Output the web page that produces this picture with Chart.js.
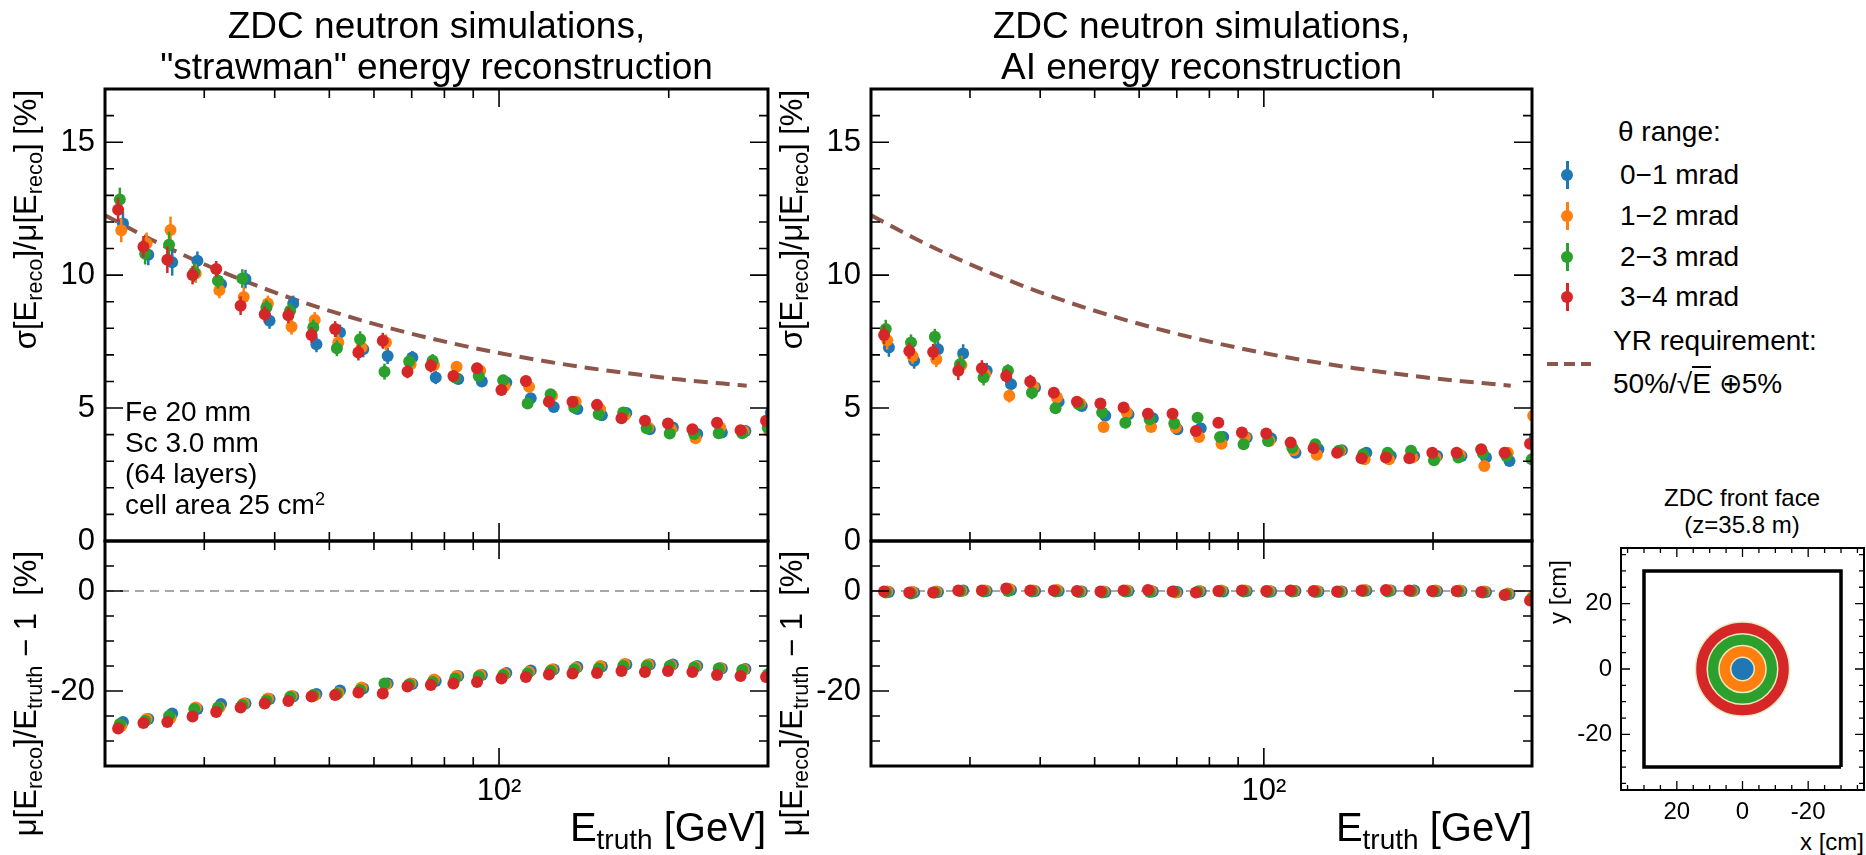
<!DOCTYPE html>
<html>
<head>
<meta charset="utf-8">
<script src="https://cdn.jsdelivr.net/npm/chart.js@4.4.1/dist/chart.umd.min.js"></script>
<style>
  body { margin: 0; background: #fff; }
  #fig { position: relative; width: 1866px; height: 855px; overflow: hidden;
         font-family: "Liberation Sans", Arial, sans-serif; color: #000; }
  canvas { position: absolute; }
  .t { position: absolute; white-space: nowrap; }
  .yl { position: absolute; white-space: nowrap; text-align: right; transform-origin: 0 0; transform: rotate(-90deg); }
  sub { font-size: 70%; vertical-align: baseline; position: relative; top: 0.28em; }
  sup { font-size: 65%; vertical-align: baseline; position: relative; top: -0.5em; }
  .mk { position: absolute; }
  .mk .bar { position: absolute; left: -1.5px; top: -14px; width: 3px; height: 28px; }
  .mk .dot { position: absolute; left: -6px; top: -6px; width: 12px; height: 12px; border-radius: 50%; }
</style>
</head>
<body>
<div id="fig">
  <canvas id="resStraw"></canvas>
  <canvas id="biasStraw"></canvas>
  <canvas id="resAI"></canvas>
  <canvas id="biasAI"></canvas>
  <canvas id="zdc"></canvas>

  <!-- titles -->
  <div class="t" style="left:105px;top:5px;width:663px;text-align:center;font-size:37px;line-height:41px;">ZDC neutron simulations,<br>"strawman" energy reconstruction</div>
  <div class="t" style="left:871px;top:5px;width:661px;text-align:center;font-size:37px;line-height:41px;">ZDC neutron simulations,<br>AI energy reconstruction</div>

  <!-- y labels (top aligned) -->
  <div class="yl" style="left:8px;top:590px;width:500px;height:36px;line-height:36px;font-size:31px;">σ[E<sub>reco</sub>]/μ[E<sub>reco</sub>] [%]</div>
  <div class="yl" style="left:8px;top:1051px;width:500px;height:36px;line-height:36px;font-size:31px;">μ[E<sub>reco</sub>]/E<sub>truth</sub> − 1 &nbsp;[%]</div>
  <div class="yl" style="left:774px;top:590px;width:500px;height:36px;line-height:36px;font-size:31px;">σ[E<sub>reco</sub>]/μ[E<sub>reco</sub>] [%]</div>
  <div class="yl" style="left:774px;top:1051px;width:500px;height:36px;line-height:36px;font-size:31px;">μ[E<sub>reco</sub>]/E<sub>truth</sub> − 1 &nbsp;[%]</div>

  <!-- x labels (right aligned) -->
  <div class="t" style="right:1100px;top:805px;font-size:40px;line-height:44px;">E<sub>truth</sub> [GeV]</div>
  <div class="t" style="right:334px;top:805px;font-size:40px;line-height:44px;">E<sub>truth</sub> [GeV]</div>

  <!-- detector text -->
  <div class="t" style="left:125px;top:396px;font-size:28px;line-height:31px;">Fe 20 mm<br>Sc 3.0 mm<br>(64 layers)<br>cell area 25 cm<sup>2</sup></div>

  <!-- legend -->
  <div class="t" style="left:1618px;top:116px;font-size:28px;line-height:32px;">θ range:</div>
  <div id="legendEntries"></div>
  <div class="t" style="left:1613px;top:325px;font-size:28px;line-height:32px;">YR requirement:</div>
  <div style="position:absolute;left:1547px;top:362px;width:44px;height:4px;background:repeating-linear-gradient(to right,#8c564b 0 11px,transparent 11px 17px);"></div>
  <div class="t" style="left:1613px;top:368px;font-size:28px;line-height:32px;">50%/√<span style="border-top:2px solid #000;">E</span> ⊕5%</div>

  <!-- ZDC inset texts -->
  <div class="t" style="left:1622px;top:484px;width:240px;text-align:center;font-size:24px;line-height:27px;">ZDC front face<br>(z=35.8 m)</div>
  <div class="t" style="right:2px;top:829px;font-size:24px;line-height:26px;">x [cm]</div>
  <div class="yl" style="left:1544px;top:860px;width:300px;height:28px;line-height:28px;font-size:24px;">y [cm]</div>
</div>

<script>
// ---- data ----
const energies = [21.1, 23.4, 25.8, 28.6, 31.5, 34.8, 38.4, 42.3, 46.5, 51.2, 56.3, 62.2, 68.8, 75.7,
                  83.0, 91.4, 101, 111.6, 122.6, 135, 149.2, 164.9, 181.5, 199.4, 220.3, 243.6, 268.2, 297.6];
const seriesNames = ['0−1 mrad', '1−2 mrad', '2−3 mrad', '3−4 mrad'];
const seriesColors = ['#1f77b4', '#ff7f0e', '#2ca02c', '#d62728'];
const xShift = [1.02, 1.013, 1.007, 1.0]; // small horizontal offsets between theta ranges

// resolution, strawman
const strawRes01 = [11.94, 10.77, 10.48, 10.54, 9.66, 9.85, 8.28, 8.93, 7.40, 7.84, 7.21, 6.96, 6.90, 6.15,
                    6.09, 6.00, 5.96, 5.37, 5.04, 4.96, 4.73, 4.81, 4.20, 4.27, 4.02, 4.08, 4.14, 4.83];
const strawRes12 = [11.69, 11.20, 11.70, 10.06, 9.43, 9.18, 8.93, 8.06, 8.31, 7.47, 7.28, 7.47, 6.65, 6.62,
                    6.55, 6.40, 5.83, 5.80, 5.46, 5.24, 4.96, 4.73, 4.27, 4.20, 3.86, 4.27, 4.12, 4.14];
const strawRes23 = [12.84, 10.80, 11.14, 10.10, 9.79, 9.87, 8.78, 8.66, 8.03, 7.25, 7.59, 6.37, 6.75, 6.78,
                    6.15, 6.21, 6.05, 5.17, 5.52, 5.02, 4.77, 4.83, 4.24, 4.04, 4.02, 4.05, 4.05, 4.27];
const strawRes34 = [12.46, 11.07, 10.58, 10.00, 10.23, 8.85, 8.53, 8.49, 7.75, 7.97, 7.09, 7.53, 6.37, 6.59,
                    6.21, 6.50, 5.68, 6.02, 5.24, 5.24, 5.12, 4.62, 4.52, 4.42, 4.20, 4.45, 4.17, 4.52];
const strawResErr = [0.45, 0.4, 0.5, 0.35, 0.3, 0.35, 0.3, 0.3, 0.3, 0.3, 0.3, 0.3, 0.25, 0.25,
                     0.2, 0.2, 0.2, 0.2, 0.15, 0.15, 0.15, 0.12, 0.12, 0.12, 0.12, 0.12, 0.12, 0.12];

// resolution, AI
const aiRes01 = [7.28, 6.78, 7.21, 7.05, 6.40, 5.90, 5.77, 5.24, 5.08, 4.71, 4.77, 4.62, 4.20, 4.24,
                 3.91, 3.89, 3.86, 3.32, 3.45, 3.41, 3.32, 3.20, 3.20, 3.20, 3.20, 3.14, 3.01, 3.89];
const aiRes12 = [7.55, 6.96, 6.84, 6.62, 6.27, 5.46, 5.80, 5.40, 5.17, 4.29, 4.83, 4.29, 4.27, 3.91,
                 3.66, 3.91, 3.76, 3.41, 3.24, 3.39, 3.07, 3.07, 3.14, 3.14, 3.24, 2.82, 3.32, 4.71];
const aiRes23 = [7.97, 7.47, 7.68, 6.65, 6.15, 6.40, 5.58, 4.99, 5.14, 4.83, 4.45, 4.58, 4.42, 4.64,
                 3.91, 3.64, 3.76, 3.51, 3.64, 3.39, 3.26, 3.32, 3.39, 3.04, 3.14, 3.29, 3.20, 3.07];
const aiRes34 = [7.75, 7.15, 7.11, 6.40, 6.50, 6.21, 6.00, 5.58, 5.24, 5.17, 5.02, 4.79, 4.79, 4.14,
                 4.45, 4.08, 4.04, 3.70, 3.49, 3.32, 3.11, 3.14, 3.11, 3.32, 3.32, 3.45, 3.32, 3.66];
const aiResErr = [0.35, 0.3, 0.3, 0.35, 0.3, 0.25, 0.25, 0.2, 0.2, 0.2, 0.2, 0.2, 0.18, 0.15,
                  0.15, 0.15, 0.12, 0.12, 0.12, 0.1, 0.1, 0.1, 0.1, 0.1, 0.1, 0.1, 0.1, 0.1];

// bias, strawman
const strawBias01 = [-26.2, -25.6, -24.5, -23.6, -22.6, -22.5, -21.6, -21.1, -20.6, -19.9, -19.5, -18.5, -18.6, -18.0,
                     -17.0, -16.8, -16.4, -15.9, -15.7, -15.2, -15.1, -14.7, -14.7, -14.7, -15.0, -15.5, -15.6, -16.4];
const strawBias12 = [-27.0, -25.6, -25.4, -23.3, -23.3, -22.5, -21.5, -21.0, -20.9, -20.4, -19.3, -18.7, -18.5, -17.7,
                     -17.0, -16.8, -16.6, -16.2, -15.7, -15.4, -15.0, -14.6, -14.7, -14.9, -15.1, -15.4, -15.7, -16.5];
const strawBias23 = [-26.6, -26.0, -25.0, -23.6, -23.3, -22.8, -21.9, -21.2, -20.8, -20.6, -19.8, -18.5, -18.7, -18.2,
                     -17.5, -17.1, -16.8, -16.5, -16.0, -15.7, -15.5, -15.0, -15.0, -15.0, -15.3, -15.5, -15.8, -16.7];
const strawBias34 = [-27.5, -26.4, -26.2, -25.1, -24.2, -23.3, -22.5, -22.0, -21.1, -20.8, -20.3, -20.5, -19.1, -18.8,
                     -18.5, -18.2, -17.5, -17.2, -16.7, -16.5, -16.4, -16.0, -16.2, -16.0, -16.2, -16.8, -17.0, -17.2];

// bias, AI
const aiBias01 = [-0.2, -0.3, -0.2, 0.1, 0.0, 0.2, 0.0, 0.0, -0.1, -0.2, 0.0, -0.1, -0.2, -0.1,
                  -0.1, 0.0, -0.1, 0.0, -0.1, -0.1, 0.1, 0.1, 0.1, 0.0, 0.0, -0.2, -0.6, -1.4];
const aiBias12 = [-0.1, -0.2, -0.1, 0.0, 0.1, 0.4, 0.1, 0.2, -0.1, -0.1, 0.1, 0.0, -0.3, 0.0,
                  0.1, 0.1, 0.0, 0.0, 0.0, -0.1, 0.2, 0.1, 0.0, 0.1, 0.1, -0.1, -0.5, -1.0];
const aiBias23 = [-0.3, -0.5, -0.3, 0.0, -0.1, 0.0, -0.1, -0.1, -0.2, -0.3, -0.1, -0.2, -0.1, -0.2,
                  -0.1, -0.1, -0.2, -0.1, -0.2, -0.2, 0.0, -0.1, 0.0, -0.1, -0.1, -0.3, -0.7, -1.5];
const aiBias34 = [-0.1, -0.3, -0.3, 0.1, 0.1, 0.5, 0.1, 0.1, 0.0, -0.1, 0.1, 0.2, -0.1, -0.3,
                  0.0, 0.1, 0.0, 0.1, 0.0, -0.1, 0.1, 0.2, 0.1, 0.0, 0.0, -0.2, -0.8, -1.9];

// YR requirement curve
const yrEnergy = [20, 24, 28, 33, 40, 48, 57, 68, 82, 100, 120, 145, 175, 210, 250, 275];
const yrValue = [12.25, 11.37, 10.69, 10.04, 9.35, 8.78, 8.30, 7.86, 7.45, 7.07, 6.77, 6.50, 6.27, 6.07, 5.92, 5.84];
const zeroLine = [0, 0];

// axes
const xRange = [20, 300];
const xTickLabels = [100];
const xMinorTicks = [20, 30, 40, 50, 60, 70, 80, 90, 200, 300];
const resRange = [0, 17];
const resTicks = [0, 5, 10, 15];
const resMinor = [1, 2, 3, 4, 6, 7, 8, 9, 11, 12, 13, 14, 16];
const biasRange = [-35, 10];
const biasTicks = [0, -20];
const biasMinor = [5, -5, -10, -15, -25, -30];

// ZDC front face inset
const zdcRange = [-37, 37];
const zdcTicks = [20, 0, -20];
const zdcMinor = [-35, -30, -25, -15, -10, -5, 5, 10, 15, 25, 30, 35];
const zdcHalfWidth = 30;
const zdcRadius = [3.58, 7.16, 10.74, 14.32];

const FONT = '"Liberation Sans", Arial, sans-serif';

// inward ticks on all four sides + frame
const frameTicks = {
  id: 'frameTicks',
  afterDatasetsDraw(chart, args, o) {
    const { ctx, chartArea: a, scales: { x, y } } = chart;
    ctx.save();
    ctx.strokeStyle = '#000';
    ctx.lineWidth = o.tickWidth;
    const xs = [[o.xMajor, o.major], [o.xMinor, o.minor]];
    for (const [vals, len] of xs) {
      for (const v of vals) {
        const px = x.getPixelForValue(v);
        if (px < a.left - 0.5 || px > a.right + 0.5) continue;
        ctx.beginPath();
        ctx.moveTo(px, a.bottom); ctx.lineTo(px, a.bottom - len);
        ctx.moveTo(px, a.top); ctx.lineTo(px, a.top + len);
        ctx.stroke();
      }
    }
    const ys = [[o.yMajor, o.major], [o.yMinor, o.minor]];
    for (const [vals, len] of ys) {
      for (const v of vals) {
        const py = y.getPixelForValue(v);
        if (py < a.top - 0.5 || py > a.bottom + 0.5) continue;
        ctx.beginPath();
        ctx.moveTo(a.left, py); ctx.lineTo(a.left + len, py);
        ctx.moveTo(a.right, py); ctx.lineTo(a.right - len, py);
        ctx.stroke();
      }
    }
    ctx.lineWidth = o.frameWidth;
    ctx.strokeRect(a.left, a.top, a.right - a.left, a.bottom - a.top);
    ctx.restore();
  }
};

// vertical error bars under the markers
const errorBars = {
  id: 'errorBars',
  beforeDatasetDraw(chart, args) {
    const ds = chart.data.datasets[args.index];
    if (!ds.err) return;
    const { ctx, chartArea: a } = chart;
    const y = chart.scales.y;
    ctx.save();
    ctx.beginPath();
    ctx.rect(a.left, a.top, a.right - a.left, a.bottom - a.top);
    ctx.clip();
    ctx.strokeStyle = ds.backgroundColor;
    ctx.lineWidth = 2.5;
    args.meta.data.forEach((pt, i) => {
      const v = ds.data[i].y, e = ds.err[i];
      ctx.beginPath();
      ctx.moveTo(pt.x, y.getPixelForValue(v - e));
      ctx.lineTo(pt.x, y.getPixelForValue(v + e));
      ctx.stroke();
    });
    ctx.restore();
  }
};

function placeCanvas(cv, frame, pad) {
  cv.width = pad.l + (frame.x1 - frame.x0) + pad.r;
  cv.height = pad.t + (frame.y1 - frame.y0) + pad.b;
  cv.style.left = (frame.x0 - pad.l) + 'px';
  cv.style.top = (frame.y0 - pad.t) + 'px';
  cv.style.width = cv.width + 'px';
  cv.style.height = cv.height + 'px';
}

function energyPanel(id, frame, opt) {
  const pad = { l: 70, t: 6, r: 6, b: opt.xLabels ? 52 : 22 };
  const cv = document.getElementById(id);
  placeCanvas(cv, frame, pad);

  const datasets = [];
  if (opt.refLine) datasets.push(opt.refLine);
  opt.series.forEach((vals, k) => datasets.push({
    label: seriesNames[k],
    data: energies.map((e, i) => ({ x: e * xShift[k], y: vals[i] })),
    err: opt.err,
    backgroundColor: seriesColors[k],
    borderWidth: 0,
    pointRadius: opt.r,
    order: 4 - k,
    clip: 0
  }));

  new Chart(cv, {
    type: 'scatter',
    data: { datasets },
    options: {
      responsive: false, animation: false, devicePixelRatio: 1, events: [],
      layout: { padding: { left: 0, top: pad.t, right: pad.r, bottom: 0 } },
      plugins: {
        legend: { display: false }, tooltip: { enabled: false },
        frameTicks: { xMajor: xTickLabels, xMinor: xMinorTicks, yMajor: opt.yTicks, yMinor: opt.yMinor,
                      major: 18, minor: 9, tickWidth: 1.6, frameWidth: 3 }
      },
      scales: {
        x: {
          type: 'logarithmic', min: xRange[0], max: xRange[1],
          grid: { display: false, drawTicks: false }, border: { display: false },
          ticks: { display: opt.xLabels, autoSkip: false, maxRotation: 0, padding: 7, color: '#000',
                   font: { family: FONT, size: 31 }, callback: v => (v === 100 ? '10²' : '') },
          afterBuildTicks: s => { s.ticks = xTickLabels.map(v => ({ value: v })); },
          afterFit: s => { s.height = pad.b; s.paddingLeft = 0; s.paddingRight = 0; }
        },
        y: {
          min: opt.yRange[0], max: opt.yRange[1],
          grid: { display: false, drawTicks: false }, border: { display: false },
          ticks: { autoSkip: false, padding: 10, color: '#000', font: { family: FONT, size: 31 } },
          afterBuildTicks: s => { s.ticks = opt.yTicks.map(v => ({ value: v })); },
          afterFit: s => { s.width = pad.l; s.paddingTop = 0; s.paddingBottom = 0; }
        }
      }
    },
    plugins: [frameTicks, errorBars]
  });
}

const yrLine = {
  type: 'line', showLine: true,
  data: yrEnergy.map((e, i) => ({ x: e, y: yrValue[i] })),
  borderColor: '#8c564b', borderWidth: 4, borderDash: [14, 8], pointRadius: 0,
  cubicInterpolationMode: 'monotone', order: 10, clip: 0
};
const zeroRef = () => ({
  type: 'line', showLine: true,
  data: xRange.map((e, i) => ({ x: e, y: zeroLine[i] })),
  borderColor: '#a8a8a8', borderWidth: 2, borderDash: [9, 6], pointRadius: 0, order: 10, clip: 0
});

const leftCol = { x0: 105, x1: 768 }, rightCol = { x0: 871, x1: 1532 };
const topRow = { y0: 89, y1: 541 }, botRow = { y0: 541, y1: 766 };

energyPanel('resStraw', { ...leftCol, ...topRow }, {
  series: [strawRes01, strawRes12, strawRes23, strawRes34], err: strawResErr, r: 6,
  yRange: resRange, yTicks: resTicks, yMinor: resMinor, xLabels: false, refLine: { ...yrLine }
});
energyPanel('biasStraw', { ...leftCol, ...botRow }, {
  series: [strawBias01, strawBias12, strawBias23, strawBias34], r: 6,
  yRange: biasRange, yTicks: biasTicks, yMinor: biasMinor, xLabels: true, refLine: zeroRef()
});
energyPanel('resAI', { ...rightCol, ...topRow }, {
  series: [aiRes01, aiRes12, aiRes23, aiRes34], err: aiResErr, r: 6,
  yRange: resRange, yTicks: resTicks, yMinor: resMinor, xLabels: false, refLine: { ...yrLine }
});
energyPanel('biasAI', { ...rightCol, ...botRow }, {
  series: [aiBias01, aiBias12, aiBias23, aiBias34], r: 6,
  yRange: biasRange, yTicks: biasTicks, yMinor: biasMinor, xLabels: true, refLine: zeroRef()
});

// ZDC front face
(function () {
  const frame = { x0: 1621, x1: 1864, y0: 548, y1: 790 };
  const pad = { l: 50, t: 4, r: 2, b: 36 };
  const cv = document.getElementById('zdc');
  placeCanvas(cv, frame, pad);
  const h = zdcHalfWidth;
  const square = [[-h, -h], [h, -h], [h, h], [-h, h], [-h, -h]];
  const datasets = [{
    type: 'line', showLine: true, data: square.map(p => ({ x: p[0], y: p[1] })),
    borderColor: '#000', borderWidth: 3.5, pointRadius: 0, order: 10, clip: 0
  }];
  zdcRadius.forEach((r, k) => datasets.push({
    label: seriesNames[k], data: [{ x: 0, y: 0 }],
    backgroundColor: seriesColors[k], borderColor: '#efe6bd', borderWidth: 1.5,
    pointRadius: c => Math.abs(c.chart.scales.x.getPixelForValue(r) - c.chart.scales.x.getPixelForValue(0)),
    order: k, clip: false
  }));
  new Chart(cv, {
    type: 'scatter',
    data: { datasets },
    options: {
      responsive: false, animation: false, devicePixelRatio: 1, events: [],
      layout: { padding: { left: 0, top: pad.t, right: pad.r, bottom: 0 } },
      plugins: {
        legend: { display: false }, tooltip: { enabled: false },
        frameTicks: { xMajor: zdcTicks, xMinor: zdcMinor, yMajor: zdcTicks, yMinor: zdcMinor,
                      major: 9, minor: 5, tickWidth: 1.3, frameWidth: 2 }
      },
      scales: {
        x: {
          reverse: true, min: zdcRange[0], max: zdcRange[1],
          grid: { display: false, drawTicks: false }, border: { display: false },
          ticks: { autoSkip: false, maxRotation: 0, padding: 8, color: '#000', font: { family: FONT, size: 24 } },
          afterBuildTicks: s => { s.ticks = zdcTicks.map(v => ({ value: v })); },
          afterFit: s => { s.height = pad.b; s.paddingLeft = 0; s.paddingRight = 0; }
        },
        y: {
          min: zdcRange[0], max: zdcRange[1],
          grid: { display: false, drawTicks: false }, border: { display: false },
          ticks: { autoSkip: false, padding: 9, color: '#000', font: { family: FONT, size: 24 } },
          afterBuildTicks: s => { s.ticks = zdcTicks.map(v => ({ value: v })); },
          afterFit: s => { s.width = pad.l; s.paddingTop = 0; s.paddingBottom = 0; }
        }
      }
    },
    plugins: [frameTicks]
  });
})();

// legend entries (marker with error bar + label)
const legendY = [175, 216, 257, 297];
const legendBox = document.getElementById('legendEntries');
seriesNames.forEach((name, k) => {
  const m = document.createElement('div');
  m.className = 'mk';
  m.style.left = '1567px';
  m.style.top = legendY[k] + 'px';
  m.innerHTML = '<div class="bar" style="background:' + seriesColors[k] + '"></div>' +
                '<div class="dot" style="background:' + seriesColors[k] + '"></div>';
  legendBox.appendChild(m);
  const t = document.createElement('div');
  t.className = 't';
  t.style.cssText = 'left:1620px;top:' + (legendY[k] - 16) + 'px;font-size:28px;line-height:32px;';
  t.textContent = name;
  legendBox.appendChild(t);
});
</script>
</body>
</html>
